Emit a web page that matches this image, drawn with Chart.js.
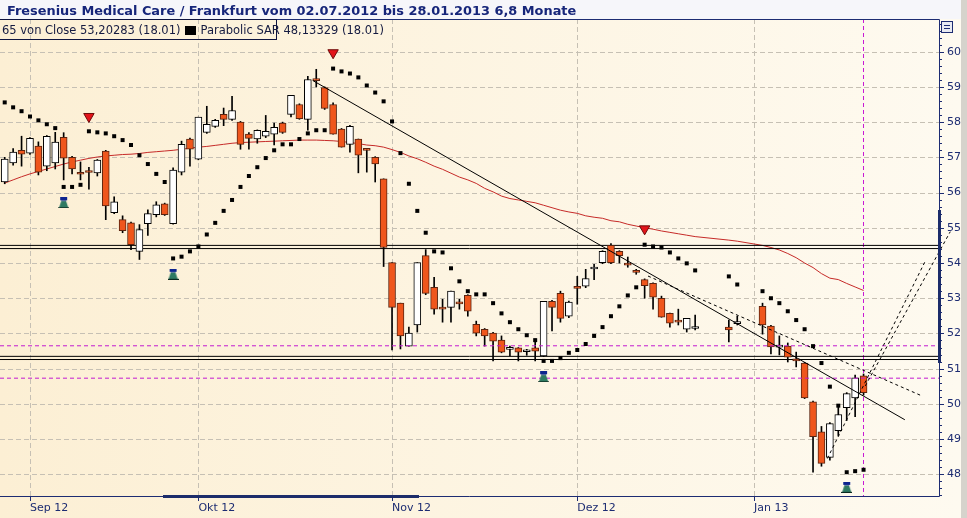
<!DOCTYPE html>
<html>
<head>
<meta charset="utf-8">
<script src="https://cdn.jsdelivr.net/npm/chart.js@4.4.0/dist/chart.umd.min.js"></script>
<style>
html, body { margin: 0; padding: 0; overflow: hidden; background: #fff; }
#wrap { position: relative; width: 967px; height: 518px; }
#chart { position: absolute; left: 0; top: 0; }
#title { position: absolute; left: 7px; top: 3px; font: bold 12.9px "DejaVu Sans", sans-serif; color: #17267a; white-space: nowrap; }
#legendBox { position: absolute; left: -1px; top: 19px; width: 278px; height: 21px; border: 1px solid #0e1440; box-sizing: border-box; }
#legend { position: absolute; left: 2px; top: 23px; font: 11.5px "DejaVu Sans", sans-serif; color: #141a40; white-space: nowrap; }
#legend i { display: inline-block; width: 11px; height: 9px; background: #000; margin: 0 4px 0 5px; vertical-align: -1px; }
</style>
</head>
<body>
<div id="wrap">
  <canvas id="chart" width="967" height="518"></canvas>
  <div id="title">Fresenius Medical Care / Frankfurt vom 02.07.2012 bis 28.01.2013 6,8 Monate</div>
  <div id="legendBox"></div>
  <div id="legend">65 von Close 53,20283 (18.01)<i></i>Parabolic SAR 48,13329 (18.01)</div>
</div>
<script>
// Daily candles (Xetra)
const candleDates = [
  '2012-08-29','2012-08-30','2012-08-31','2012-09-03','2012-09-04','2012-09-05','2012-09-06','2012-09-07',
  '2012-09-10','2012-09-11','2012-09-12','2012-09-13','2012-09-14','2012-09-17','2012-09-18','2012-09-19',
  '2012-09-20','2012-09-21','2012-09-24','2012-09-25','2012-09-26','2012-09-27','2012-09-28','2012-10-01',
  '2012-10-02','2012-10-03','2012-10-04','2012-10-05','2012-10-08','2012-10-09','2012-10-10','2012-10-11',
  '2012-10-12','2012-10-15','2012-10-16','2012-10-17','2012-10-18','2012-10-19','2012-10-22','2012-10-23',
  '2012-10-24','2012-10-25','2012-10-26','2012-10-29','2012-10-30','2012-10-31','2012-11-01','2012-11-02',
  '2012-11-05','2012-11-06','2012-11-07','2012-11-08','2012-11-09','2012-11-12','2012-11-13','2012-11-14',
  '2012-11-15','2012-11-16','2012-11-19','2012-11-20','2012-11-21','2012-11-22','2012-11-23','2012-11-26',
  '2012-11-27','2012-11-28','2012-11-29','2012-11-30','2012-12-03','2012-12-04','2012-12-05','2012-12-06',
  '2012-12-07','2012-12-10','2012-12-11','2012-12-12','2012-12-13','2012-12-14','2012-12-17','2012-12-18',
  '2012-12-19','2012-12-20','2012-12-21','2012-12-27','2012-12-28','2013-01-02','2013-01-03','2013-01-04',
  '2013-01-07','2013-01-08','2013-01-09','2013-01-10','2013-01-11','2013-01-14','2013-01-15','2013-01-16',
  '2013-01-17','2013-01-18'
];
const opens = [
  56.30,56.84,57.20,57.12,57.32,56.75,56.84,57.57, 57.00,56.55,56.60,56.56,57.18,55.43,55.23,55.14,
  54.33,55.12,55.37,55.68,55.12,56.58,57.52,56.95, 57.71,57.88,58.22,58.08,58.00,57.66,57.52,57.60,
  57.66,57.97,58.22,58.50,58.08,59.20,58.98,58.50, 57.80,57.37,57.52,57.23,57.00,56.39,54.01,52.86,
  51.64,52.24,54.21,53.31,52.74,52.74,52.86,53.08, 52.26,52.12,52.01,51.81,51.55,51.59,51.48,51.59,
  51.36,52.91,53.14,52.49,53.34,53.34,53.83,54.01, 54.50,54.33,53.99,53.79,53.53,53.42,53.00,52.57,
  52.38,52.12,52.14,52.18,52.28,52.77,52.21,51.61, 51.64,51.28,51.16,50.06,49.21,48.48,49.24,49.89,
  50.17,50.80
];
const highs = [
  57.00,57.25,57.60,57.56,57.44,57.62,57.71,57.70, 57.03,56.87,56.72,56.94,57.20,55.88,55.34,55.16,
  55.09,55.51,55.74,55.70,56.70,57.46,57.55,58.14, 58.45,58.08,58.40,58.73,58.02,57.70,57.78,58.19,
  57.97,58.00,58.76,58.52,59.30,59.50,59.00,58.55, 57.82,57.91,57.52,57.25,57.02,56.39,54.01,52.86,
  52.18,54.01,54.38,53.59,52.97,53.20,52.97,53.10, 52.35,52.14,52.03,51.93,51.64,51.60,51.55,51.84,
  52.91,52.94,53.20,52.92,53.62,53.82,53.96,54.35, 54.55,54.35,54.17,53.82,53.55,53.44,53.06,52.58,
  52.69,52.43,52.52,52.38,52.49,52.86,52.23,51.93, 51.73,51.47,51.18,50.08,49.36,49.47,49.95,50.32,
  50.82,50.85
];
const lows = [
  56.25,56.78,56.75,57.08,56.50,56.62,56.67,56.36, 56.53,56.36,56.10,56.47,55.23,55.40,54.86,54.38,
  54.10,54.78,55.31,55.35,55.10,56.50,56.75,56.93, 57.68,57.85,57.90,58.05,57.23,57.23,57.40,57.56,
  57.35,57.68,58.15,58.08,57.77,59.00,58.36,57.66, 57.29,57.15,56.56,56.58,56.30,53.90,51.53,51.56,
  51.64,52.04,53.10,52.55,52.32,52.32,52.69,52.49, 51.93,51.64,51.22,51.45,51.36,51.22,51.38,51.22,
  51.34,52.07,52.32,52.45,52.83,53.30,53.53,53.98, 53.98,54.00,53.88,53.68,53.00,52.69,52.46,52.18,
  52.24,52.04,52.10,51.76,52.24,51.98,51.42,51.39, 51.19,51.05,50.15,48.06,48.23,48.40,49.10,49.53,
  49.64,50.25
];
const closes = [
  56.95,57.15,57.09,57.54,56.58,57.60,57.43,56.98, 56.67,56.52,56.57,56.92,55.62,55.74,54.92,54.52,
  54.95,55.40,55.65,55.37,56.64,57.37,57.23,58.14, 57.94,58.05,58.08,58.33,57.37,57.54,57.77,57.74,
  57.85,57.71,58.76,58.10,59.21,59.18,58.39,57.66, 57.29,57.88,57.06,57.20,56.81,54.44,52.74,51.93,
  52.01,54.01,53.14,52.69,52.69,53.20,52.84,52.63, 52.01,51.93,51.78,51.47,51.57,51.47,51.50,51.50,
  52.91,52.74,52.43,52.89,53.28,53.56,53.87,54.33, 54.01,54.21,53.94,53.73,53.36,53.03,52.46,52.29,
  52.32,52.43,52.16,52.10,52.30,52.24,51.62,51.67, 51.33,51.22,50.17,49.07,48.31,49.44,49.70,50.29,
  50.74,50.32
];
// Parabolic SAR, one value per candle
const sarValues = [
  58.56,58.42,58.31,58.16,58.05,57.94,57.83,56.16, 56.16,56.22,57.74,57.71,57.68,57.60,57.49,57.35,
  57.06,56.81,56.53,56.30,54.13,54.18,54.33,54.47, 54.81,55.14,55.48,55.79,56.16,56.47,56.72,56.98,
  57.20,57.37,57.37,57.52,57.68,57.77,57.77,59.52, 59.44,59.38,59.27,59.04,58.84,58.59,58.02,57.12,
  56.25,55.48,54.86,54.33,54.30,53.85,53.48,53.20, 53.11,53.11,52.86,52.57,52.32,52.12,51.95,51.81,
  51.22,51.22,51.30,51.45,51.53,51.70,51.93,52.18, 52.49,52.77,53.08,53.31,54.52,54.47,54.44,54.30,
  54.13,53.99,53.79,53.62,53.39,53.20,53.00,52.86, 52.63,52.38,52.12,51.64,51.16,50.49,49.95,48.06,
  48.09,48.13
];
// 65-day moving average of close, one value per candle
const maValues = [
  56.27,56.36,56.45,56.53,56.60,56.67,56.74,56.81, 56.87,56.92,56.97,57.01,57.04,57.06,57.08,57.09,
  57.11,57.14,57.16,57.18,57.20,57.23,57.26,57.29, 57.31,57.34,57.37,57.40,57.42,57.43,57.44,57.45,
  57.46,57.47,57.48,57.49,57.49,57.49,57.48,57.47, 57.45,57.42,57.39,57.35,57.33,57.29,57.22,57.14,
  57.04,56.96,56.86,56.75,56.66,56.55,56.44,56.36, 56.26,56.12,56.02,55.90,55.83,55.79,55.75,55.71,
  55.64,55.57,55.50,55.45,55.41,55.34,55.30,55.27, 55.20,55.17,55.10,55.05,55.00,54.96,54.91,54.87,
  54.83,54.79,54.75,54.65,54.62,54.50,54.44,54.37, 54.27,54.15,54.00,53.87,53.70,53.57,53.53,53.42,
  53.32,53.22
];
const monthLabels = ['Sep 12', 'Okt 12', 'Nov 12', 'Dez 12', 'Jan 13'];
const monthDates = ['2012-09-03', '2012-10-01', '2012-11-01', '2012-12-03', '2013-01-01'];
const yTicks = [48, 49, 50, 51, 52, 53, 54, 55, 56, 57, 58, 59, 60];

// signals
const sellDates = ['2012-09-12', '2012-10-23', '2012-12-13'];
const sellPrices = [58.16, 59.97, 54.97];
const buyDates = ['2012-09-07', '2012-09-26', '2012-11-27', '2013-01-16'];
const buyPrices = [55.71, 53.68, 50.77, 47.63];

// drawn lines (x in trading days from 03.09.2012)
const supportLevels = [54.50, 54.41, 51.35, 51.26];
const markLevels = [51.65, 50.73];
const markDate = '2013-01-18';
const trendSolidX = [33.6, 103.9], trendSolidY = [59.18, 49.55];
const trendDashX = [73.4, 105.9], trendDashY = [53.63, 50.23];
const chanAX = [94.7, 106.3], chanAY = [48.45, 54.04];
const chanBX = [99.2, 109.3], chanBY = [50.51, 54.89];

const X_MIN = -3.56, X_MAX = 107.96, Y_MIN = 47.385, Y_MAX = 60.928;

// weekday index counted from Mon 03.09.2012
function slotOf(d) {
    const t = Date.UTC(+d.slice(0, 4), +d.slice(5, 7) - 1, +d.slice(8, 10));
    const days = Math.round((t - Date.UTC(2012, 8, 3)) / 864e5);
    const w = Math.floor(days / 7), r = ((days % 7) + 7) % 7;
    return w * 5 + Math.min(r, 5);
}

const xs = candleDates.map(slotOf);
const isUp = opens.map((o, i) => closes[i] >= o);

function seg(xa, ya) { return xa.map((x, i) => ({ x: x, y: ya[i] })); }
function hline(v) { return [{ x: X_MIN, y: v }, { x: X_MAX, y: v }]; }

function houseIcon() {
    const c = document.createElement('canvas');
    c.width = 11; c.height = 11;
    const g = c.getContext('2d');
    g.fillStyle = '#0d2490'; g.fillRect(2, 0, 7, 3);
    g.fillStyle = '#6f86a8'; g.fillRect(3, 3, 5, 1);
    g.fillStyle = '#2f7a62';
    g.beginPath(); g.moveTo(3, 4); g.lineTo(8, 4); g.lineTo(10, 10); g.lineTo(1, 10); g.closePath(); g.fill();
    g.fillStyle = '#0b2a20'; g.fillRect(0, 10, 11, 1);
    return c;
}

const lineBase = { type: 'line', pointRadius: 0, borderWidth: 1, tension: 0, fill: false };

const datasets = [
    Object.assign({}, lineBase, { label: 'MA65', data: seg(xs, maValues), borderColor: '#c62a28', order: 20 }),
    ...supportLevels.map(v => Object.assign({}, lineBase, { label: 'level', data: hline(v), borderColor: '#000', order: 19 })),
    {
        type: 'bar', label: 'wick', data: xs.map((x, i) => ({ x: x, y: [lows[i], highs[i]] })),
        backgroundColor: '#000', borderWidth: 0, barThickness: 1, grouped: false, order: 12
    },
    {
        type: 'bar', label: 'body', data: xs.map((x, i) => ({ x: x, y: [opens[i], closes[i]] })),
        backgroundColor: isUp.map(u => u ? '#ffffff' : '#ef561c'),
        borderColor: isUp.map(u => u ? '#000000' : '#5a2410'),
        borderWidth: 1, borderSkipped: false, barThickness: 7, minBarLength: 2, grouped: false, order: 11
    },
    ...markLevels.map(v => Object.assign({}, lineBase, { label: 'mark', data: hline(v), borderColor: '#c21ad0', borderDash: [4, 3], order: 9 })),
    Object.assign({}, lineBase, { label: 'trend', data: seg(trendSolidX, trendSolidY), borderColor: '#000', order: 8 }),
    Object.assign({}, lineBase, { label: 'trend2', data: seg(trendDashX, trendDashY), borderColor: '#000', borderDash: [3, 3], order: 8 }),
    Object.assign({}, lineBase, { label: 'chanA', data: seg(chanAX, chanAY), borderColor: '#000', borderDash: [3, 3], order: 8, clip: false }),
    Object.assign({}, lineBase, { label: 'chanB', data: seg(chanBX, chanBY), borderColor: '#000', borderDash: [3, 3], order: 8, clip: false }),
    {
        type: 'line', label: 'SAR', data: seg(xs, sarValues), showLine: false,
        pointStyle: 'rect', pointRadius: 2.83, pointBackgroundColor: '#000', pointBorderWidth: 0, order: 5
    },
    {
        type: 'line', label: 'sell', data: seg(sellDates.map(slotOf), sellPrices), showLine: false,
        pointStyle: 'triangle', rotation: 180, pointRadius: 6, pointBackgroundColor: '#e3141a',
        pointBorderColor: '#6e0a0a', pointBorderWidth: 1, order: 2
    },
    {
        type: 'line', label: 'buy', data: seg(buyDates.map(slotOf), buyPrices), showLine: false,
        pointStyle: houseIcon(), pointRadius: 6, order: 2
    }
];

const navy = '#1d2c72';

const decor = {
    id: 'decor',
    beforeDraw(chart) {
        const c = chart.ctx, a = chart.chartArea;
        c.save();
        const g = c.createLinearGradient(0, 0, 960, 0);
        g.addColorStop(0, '#fcefd4');
        g.addColorStop(1, '#fefaf0');
        c.fillStyle = g;
        c.fillRect(0, 0, 967, 518);
        c.fillStyle = '#f6f6fa';
        c.fillRect(0, 0, 967, a.top);
        c.fillStyle = '#d6d3cc';
        c.fillRect(961, 0, 6, 518);
        c.restore();
    },
    beforeDatasetsDraw(chart) {
        const c = chart.ctx, a = chart.chartArea, sx = chart.scales.x, sy = chart.scales.y;
        c.save();
        c.strokeStyle = '#c6c0b4';
        c.lineWidth = 1;
        c.setLineDash([5, 3]);
        yTicks.forEach(v => {
            const y = Math.round(sy.getPixelForValue(v)) + 0.5;
            c.beginPath(); c.moveTo(a.left, y); c.lineTo(a.right, y); c.stroke();
        });
        monthDates.forEach(d => {
            const x = Math.round(sx.getPixelForValue(slotOf(d))) + 0.5;
            c.beginPath(); c.moveTo(x, a.top); c.lineTo(x, a.bottom); c.stroke();
        });
        // marker of the last trading day
        const mx = Math.round(sx.getPixelForValue(slotOf(markDate))) - 0.5;
        c.strokeStyle = '#c81ad4';
        c.setLineDash([4, 3]);
        c.beginPath(); c.moveTo(mx, a.top); c.lineTo(mx, a.bottom); c.stroke();
        c.restore();
    },
    afterDraw(chart) {
        const c = chart.ctx, a = chart.chartArea, sx = chart.scales.x, sy = chart.scales.y;
        c.save();
        c.strokeStyle = navy;
        c.lineWidth = 1;
        c.beginPath();
        c.moveTo(a.left, a.top + 0.5); c.lineTo(a.right + 0.5, a.top + 0.5);
        c.lineTo(a.right + 0.5, a.bottom + 0.5); c.lineTo(a.left, a.bottom + 0.5);
        c.stroke();
        // y ticks, major and minor
        for (let v = 47.4; v <= 60.9; v += 0.2) {
            const y = Math.round(sy.getPixelForValue(v)) + 0.5;
            const major = Math.abs(v - Math.round(v)) < 0.01;
            c.beginPath(); c.moveTo(a.right, y); c.lineTo(a.right + (major ? 5 : 3), y); c.stroke();
        }
        monthDates.forEach(d => {
            const x = Math.round(sx.getPixelForValue(slotOf(d))) + 0.5;
            c.beginPath(); c.moveTo(x, a.bottom); c.lineTo(x, a.bottom + 5); c.stroke();
        });
        // range thumbs on the axes
        c.fillStyle = '#1c2c6a';
        c.fillRect(163, a.bottom - 1, 256, 3);
        c.fillRect(a.right - 1, 210, 3, 153);
        // small menu button
        c.fillStyle = '#e8eaf2';
        c.fillRect(941, 21, 11, 11);
        c.strokeRect(941.5, 21.5, 11, 11);
        c.beginPath();
        c.moveTo(944, 25.5); c.lineTo(950, 25.5);
        c.moveTo(944, 28.5); c.lineTo(950, 28.5);
        c.stroke();
        c.restore();
    }
};

new Chart(document.getElementById('chart'), {
    type: 'bar',
    data: { datasets: datasets },
    plugins: [decor],
    options: {
        responsive: false,
        animation: false,
        devicePixelRatio: 1,
        events: [],
        layout: { autoPadding: false, padding: { top: 19, left: 0, right: 0, bottom: 0 } },
        plugins: { legend: { display: false }, tooltip: { enabled: false } },
        scales: {
            x: {
                type: 'linear', min: X_MIN, max: X_MAX, offset: false,
                grid: { display: false, drawTicks: false },
                border: { display: false },
                afterBuildTicks: s => { s.ticks = monthDates.map(d => ({ value: slotOf(d) })); },
                afterFit: s => { s.height = 22; s.paddingLeft = 0; s.paddingRight = 0; },
                ticks: {
                    autoSkip: false, maxRotation: 0, align: 'start', padding: 6,
                    color: navy, font: { family: 'DejaVu Sans', size: 11 },
                    callback: (v, i) => monthLabels[i]
                }
            },
            y: {
                type: 'linear', position: 'right', min: Y_MIN, max: Y_MAX,
                grid: { display: false, drawTicks: false },
                border: { display: false },
                afterBuildTicks: s => { s.ticks = yTicks.map(v => ({ value: v })); },
                afterFit: s => { s.width = 28; s.paddingTop = 0; s.paddingBottom = 0; },
                ticks: {
                    padding: 8, color: navy, font: { family: 'DejaVu Sans', size: 11 },
                    callback: v => String(v)
                }
            }
        }
    }
});
</script>
</body>
</html>
